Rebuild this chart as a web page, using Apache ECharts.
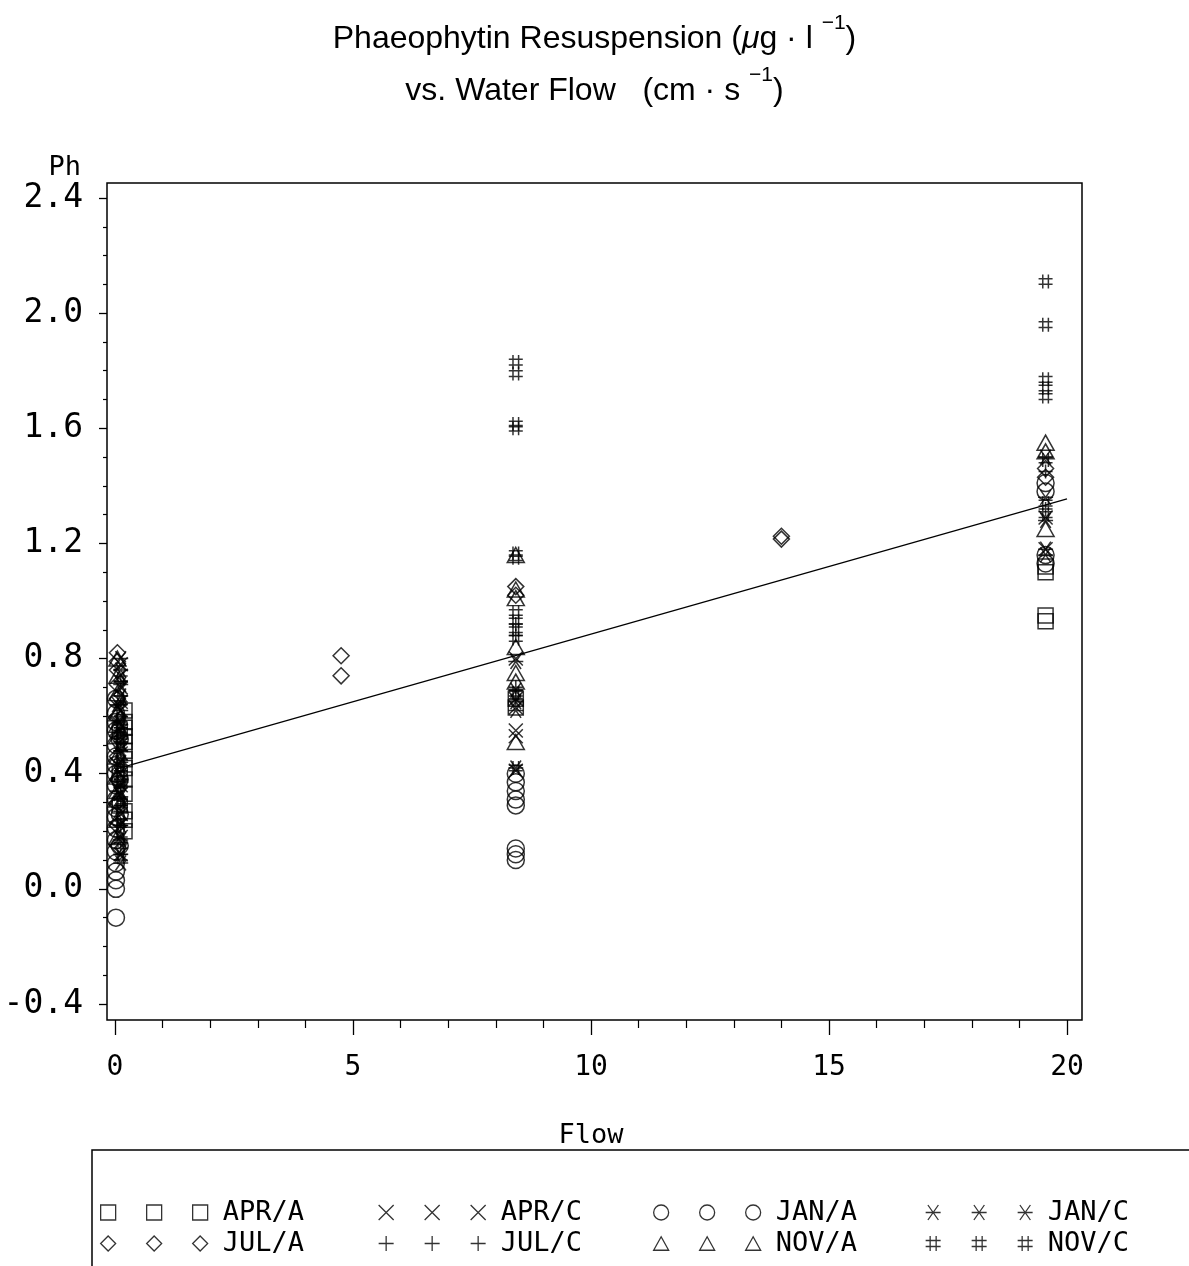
<!DOCTYPE html>
<html>
<head>
<meta charset="utf-8">
<title>Phaeophytin Resuspension vs. Water Flow</title>
<script src="https://cdn.jsdelivr.net/npm/echarts@6.0.0/dist/echarts.min.js"></script>
<style>
  html, body { margin: 0; padding: 0; background: #fff; }
  #chart { width: 1189px; height: 1266px; }
</style>
</head>
<body>
<div id="chart"></div>
<script>
// Observations: [flow (cm/s), phaeophytin (ug/l)] per month / station
const APR_A = [
  [0.2, 0.62], [0.2, 0.58], [0.2, 0.56], [0.2, 0.53], [0.2, 0.51], [0.2, 0.48],
  [0.2, 0.45], [0.2, 0.42], [0.2, 0.38], [0.2, 0.33], [0.2, 0.27], [0.2, 0.24],
  [0.2, 0.20], [0.1, 0.55], [0.1, 0.40], [0.1, 0.29],
  [8.42, 0.66], [8.42, 0.63],
  [19.55, 1.12], [19.55, 1.10], [19.55, 0.95], [19.55, 0.93]
];
const APR_C = [
  [0.12, 0.78], [0.12, 0.74], [0.12, 0.70], [0.12, 0.65], [0.12, 0.62], [0.12, 0.55],
  [0.12, 0.50], [0.12, 0.47], [0.12, 0.40], [0.12, 0.36], [0.12, 0.33], [0.12, 0.26],
  [0.12, 0.18], [0.12, 0.12], [0.05, 0.58], [0.05, 0.43], [0.05, 0.21],
  [8.42, 0.80], [8.42, 0.66], [8.42, 0.63], [8.42, 0.55], [8.42, 0.53], [8.42, 0.41],
  [19.55, 1.29], [19.55, 1.18]
];
const JAN_A = [
  [0.02, -0.10], [0.02, 0.00], [0.02, 0.03], [0.02, 0.06], [0.02, 0.09], [0.02, 0.13],
  [0.02, 0.17], [0.02, 0.21], [0.02, 0.25], [0.02, 0.28], [0.02, 0.31], [0.02, 0.36],
  [0.02, 0.40], [0.02, 0.43], [0.02, 0.46], [0.02, 0.50], [0.02, 0.55], [0.02, 0.58],
  [0.02, 0.61], [0.02, 0.66], [0.1, 0.52], [0.1, 0.38], [0.1, 0.26], [0.1, 0.15],
  [8.42, 0.40], [8.42, 0.37], [8.42, 0.34], [8.42, 0.31], [8.42, 0.29],
  [8.42, 0.14], [8.42, 0.12], [8.42, 0.10],
  [19.55, 1.41], [19.55, 1.38], [19.55, 1.16], [19.55, 1.13]
];
const JAN_C = [
  [0.12, 0.80], [0.12, 0.76], [0.12, 0.71], [0.12, 0.67], [0.12, 0.62], [0.12, 0.57],
  [0.12, 0.51], [0.12, 0.48], [0.12, 0.44], [0.12, 0.37], [0.12, 0.32], [0.12, 0.27],
  [0.12, 0.22], [0.12, 0.17], [0.12, 0.12], [0.12, 0.09], [0.05, 0.64], [0.05, 0.34],
  [8.42, 0.79], [8.42, 0.69], [8.42, 0.65], [8.42, 0.62], [8.42, 0.42],
  [19.55, 1.50], [19.55, 1.36], [19.55, 1.28], [19.55, 1.18], [19.55, 1.16]
];
const JUL_A = [
  [0.05, 0.82], [0.05, 0.79], [0.05, 0.76], [0.05, 0.71], [0.05, 0.66], [0.05, 0.60],
  [0.05, 0.53], [0.05, 0.46], [0.05, 0.38], [0.05, 0.30], [0.05, 0.22], [0.05, 0.15],
  [4.75, 0.81], [4.75, 0.74],
  [8.42, 1.05], [8.42, 1.02],
  [14.0, 1.225], [14.0, 1.215],
  [19.55, 1.46], [19.55, 1.43]
];
const JUL_C = [
  [0.12, 0.72], [0.12, 0.64], [0.12, 0.56], [0.12, 0.52], [0.12, 0.48], [0.12, 0.41],
  [0.12, 0.35], [0.12, 0.29], [0.12, 0.22], [0.12, 0.14],
  [8.42, 0.92], [8.42, 0.88], [8.42, 0.70], [8.42, 0.66],
  [19.55, 1.45], [19.55, 1.32]
];
const NOV_A = [
  [0.05, 0.80], [0.05, 0.74], [0.05, 0.68], [0.05, 0.61], [0.05, 0.57], [0.05, 0.53],
  [0.05, 0.46], [0.05, 0.39], [0.05, 0.34], [0.05, 0.31], [0.05, 0.24], [0.05, 0.18],
  [8.42, 1.16], [8.42, 1.04], [8.42, 1.01], [8.42, 0.84], [8.42, 0.75], [8.42, 0.72], [8.42, 0.51],
  [19.55, 1.55], [19.55, 1.52], [19.55, 1.25]
];
const NOV_C = [
  [0.12, 0.73], [0.12, 0.66], [0.12, 0.59], [0.12, 0.55], [0.12, 0.52], [0.12, 0.44],
  [0.12, 0.40], [0.12, 0.37], [0.12, 0.30], [0.12, 0.23], [0.12, 0.17], [0.12, 0.11],
  [8.42, 1.83], [8.42, 1.79], [8.42, 1.615], [8.42, 1.60], [8.42, 1.165], [8.42, 1.15],
  [8.42, 0.96], [8.42, 0.93], [8.42, 0.90], [8.42, 0.87], [8.42, 0.68], [8.42, 0.42],
  [19.55, 2.11], [19.55, 1.96], [19.55, 1.77], [19.55, 1.74], [19.55, 1.71],
  [19.55, 1.49], [19.55, 1.34], [19.55, 1.30]
];

// Least-squares fit endpoints
const FIT_LINE = [[0, 0.415], [20, 1.355]];

// Axis ranges and tick steps
const X_RANGE = [0, 20];
const X_STEP = 5;
const Y_RANGE = [-0.4, 2.4];
const Y_STEP = 0.4;

// Legend layout: two rows of four entries
const LEGEND_ROWS = [
  ['APR/A', 'APR/C', 'JAN/A', 'JAN/C'],
  ['JUL/A', 'JUL/C', 'NOV/A', 'NOV/C']
];

// Outline symbols (stroked, unfilled)
const SYMBOLS = {
  square:   'path://M0,0L20,0L20,20L0,20Z',
  cross:    'path://M0,0L20,20M20,0L0,20',
  circle:   'path://M0,10A10,10,0,1,1,20,10A10,10,0,1,1,0,10Z',
  star:     'path://M0,10L20,10M3,0L17,20M17,0L3,20',
  diamond:  'path://M10,0L20,10L10,20L0,10Z',
  plus:     'path://M10,0L10,20M0,10L20,10',
  triangle: 'path://M10,0L20,18L0,18Z',
  hash:     'path://M6,0L6,20M14,0L14,20M0,6L20,6M0,14L20,14'
};

const SERIES_DEF = [
  { name: 'APR/A', data: APR_A, symbol: SYMBOLS.square,   size: 15 },
  { name: 'APR/C', data: APR_C, symbol: SYMBOLS.cross,    size: 14 },
  { name: 'JAN/A', data: JAN_A, symbol: SYMBOLS.circle,   size: 17 },
  { name: 'JAN/C', data: JAN_C, symbol: SYMBOLS.star,     size: 15 },
  { name: 'JUL/A', data: JUL_A, symbol: SYMBOLS.diamond,  size: 16 },
  { name: 'JUL/C', data: JUL_C, symbol: SYMBOLS.plus,     size: 14 },
  { name: 'NOV/A', data: NOV_A, symbol: SYMBOLS.triangle, size: [17, 15] },
  { name: 'NOV/C', data: NOV_C, symbol: SYMBOLS.hash,     size: 14 }
];

const MONO = '"DejaVu Sans Mono", "Liberation Mono", monospace';
const SANS = '"Liberation Sans", Arial, Helvetica, sans-serif';
const INK = '#000';

const symbolOf = {};
SERIES_DEF.forEach(s => { symbolOf[s.name] = s.symbol; });

// Plot frame and tick geometry
const FRAME = { left: 107, top: 183, width: 975, height: 837 };
const AXES_BOX = { left: 115, top: 198, width: 952, height: 806 };

const scatterSeries = SERIES_DEF.map(s => ({
  type: 'scatter',
  name: s.name,
  xAxisIndex: 1,
  yAxisIndex: 1,
  data: s.data,
  symbol: s.symbol,
  symbolSize: s.size,
  clip: false,
  itemStyle: { color: 'transparent', borderColor: INK, borderWidth: 1.5 },
  emphasis: { disabled: true },
  z: 3
}));

const fitSeries = {
  type: 'line',
  name: 'fit',
  xAxisIndex: 1,
  yAxisIndex: 1,
  data: FIT_LINE,
  showSymbol: false,
  symbol: 'none',
  clip: false,
  lineStyle: { color: INK, width: 1.2 },
  emphasis: { disabled: true },
  z: 2
};

// Legends: two icon-only columns plus an icon-and-label column for each entry
const LEGEND_COL_X = [107, 385, 660, 932];
const LEGEND_ICON_STEP = 46;
const LEGEND_ROW_TOP = 1199;
const legends = [];
LEGEND_COL_X.forEach((cx, c) => {
  for (let j = 0; j < 3; j++) {
    const withLabel = j === 2;
    legends.push({
      orient: 'vertical',
      left: cx + LEGEND_ICON_STEP * j - 7,
      top: LEGEND_ROW_TOP,
      padding: 0,
      itemWidth: 15,
      itemHeight: 15,
      itemGap: 4,
      selectedMode: false,
      data: [LEGEND_ROWS[0][c], LEGEND_ROWS[1][c]].map(n => ({ name: n, icon: symbolOf[n] })),
      formatter: withLabel ? (n => n) : (() => ' '),
      itemStyle: { color: 'transparent', borderColor: INK, borderWidth: 1.3 },
      textStyle: {
        fontFamily: MONO, fontSize: 27, color: INK, lineHeight: 20,
        padding: withLabel ? [0, 0, 0, 10] : 0
      }
    });
  }
});

const titleText =
  '{n|Phaeophytin Resuspension (}{m|μ}{n|g · l }{p|−1}{n|)}\n' +
  '{n|vs. Water Flow   (cm · s }{p|−1}{n|)}';

const option = {
  animation: false,
  backgroundColor: '#fff',
  title: {
    left: 'center',
    top: 8,
    text: titleText,
    textStyle: {
      fontWeight: 'normal',
      rich: {
        n: { fontFamily: SANS, fontSize: 32, fontWeight: 'normal', color: INK, lineHeight: 52 },
        m: { fontFamily: SANS, fontSize: 32, fontWeight: 'normal', fontStyle: 'italic', color: INK, lineHeight: 52 },
        p: { fontFamily: SANS, fontSize: 21, fontWeight: 'normal', color: INK, lineHeight: 38, verticalAlign: 'top' }
      }
    }
  },
  legend: legends,
  grid: [
    Object.assign({ show: true, borderColor: INK, borderWidth: 1.5, backgroundColor: 'transparent' }, FRAME),
    Object.assign({ show: false }, AXES_BOX)
  ],
  xAxis: [
    { gridIndex: 0, type: 'value', show: false, min: -0.17, max: 20.3 },
    {
      gridIndex: 1,
      type: 'value',
      position: 'bottom',
      min: X_RANGE[0],
      max: X_RANGE[1],
      interval: X_STEP,
      offset: 16,
      name: 'Flow',
      nameLocation: 'middle',
      nameGap: 102,
      nameTextStyle: { fontFamily: MONO, fontSize: 27, color: INK },
      axisLine: { show: false, onZero: false },
      axisTick: { show: true, inside: false, length: 15, lineStyle: { color: INK, width: 1.3 } },
      minorTick: { show: true, splitNumber: 5, length: 8, lineStyle: { color: INK, width: 1.2 } },
      axisLabel: { fontFamily: MONO, fontSize: 28, color: INK, margin: 34 },
      splitLine: { show: false },
      minorSplitLine: { show: false }
    }
  ],
  yAxis: [
    { gridIndex: 0, type: 'value', show: false, min: -0.45, max: 2.45 },
    {
      gridIndex: 1,
      type: 'value',
      position: 'left',
      min: Y_RANGE[0],
      max: Y_RANGE[1],
      interval: Y_STEP,
      offset: 8,
      name: 'Ph',
      nameLocation: 'end',
      nameGap: 14,
      nameTextStyle: { fontFamily: MONO, fontSize: 27, color: INK, align: 'right', padding: [0, 26, 0, 0] },
      axisLine: { show: false, onZero: false },
      axisTick: { show: true, inside: false, length: 8, lineStyle: { color: INK, width: 1.3 } },
      minorTick: { show: true, splitNumber: 4, length: 4, lineStyle: { color: INK, width: 1.2 } },
      axisLabel: {
        fontFamily: MONO, fontSize: 33, color: INK, margin: 24,
        formatter: v => v.toFixed(1)
      },
      splitLine: { show: false },
      minorSplitLine: { show: false }
    }
  ],
  graphic: [
    {
      type: 'rect',
      silent: true,
      shape: { x: 92, y: 1150, width: 1200, height: 200 },
      style: { fill: 'none', stroke: INK, lineWidth: 1.5 }
    }
  ],
  series: [fitSeries].concat(scatterSeries)
};

const chart = echarts.init(document.getElementById('chart'));
chart.setOption(option);
</script>
</body>
</html>
